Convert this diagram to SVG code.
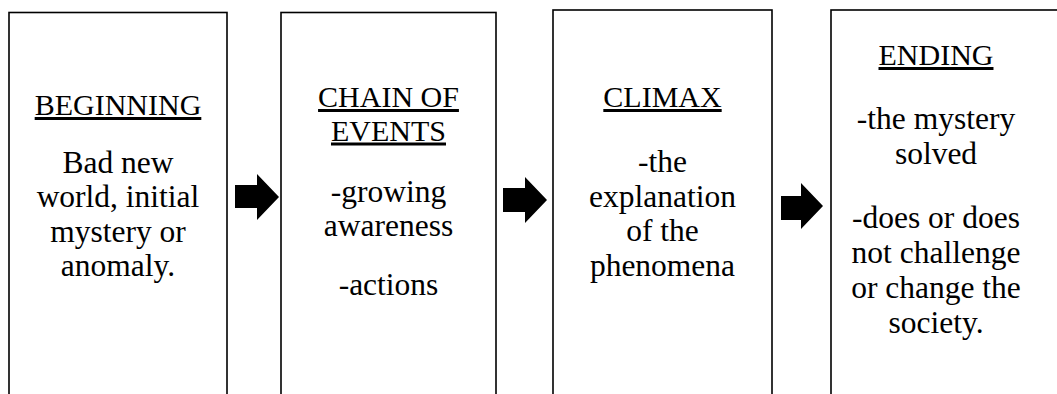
<svg xmlns="http://www.w3.org/2000/svg" width="1057" height="394" viewBox="0 0 1057 394">
<style>
.box{fill:#fff;stroke:#000;stroke-width:1.6}
text{font-family:"Liberation Serif","Times New Roman",serif;font-size:31.5px;fill:#000;text-anchor:middle}
.h{text-decoration:underline;font-size:30px}
.arrow{fill:#000}
</style>
<rect width="1057" height="394" fill="#fff"/>
<g id="node-beginning">
<rect class="box" x="9" y="12.5" width="218" height="400"/>
<text class="h" x="118" y="115">BEGINNING</text>
<text x="118" y="173">Bad new</text>
<text x="118" y="207">world, initial</text>
<text x="118" y="241.5">mystery or</text>
<text x="118" y="276">anomaly.</text>
</g>
<g id="node-chain">
<rect class="box" x="281" y="12.5" width="215" height="400"/>
<text class="h" x="388.5" y="107">CHAIN OF</text>
<text class="h" x="388.5" y="140.5">EVENTS</text>
<text x="388.5" y="201.5">-growing</text>
<text x="388.5" y="235.5">awareness</text>
<text x="388.5" y="294.5">-actions</text>
</g>
<g id="node-climax">
<rect class="box" x="553" y="10" width="219" height="400"/>
<text class="h" x="662.5" y="107">CLIMAX</text>
<text x="662.5" y="172">-the</text>
<text x="662.5" y="206.5">explanation</text>
<text x="662.5" y="241">of the</text>
<text x="662.5" y="275.5">phenomena</text>
</g>
<g id="node-ending">
<rect class="box" x="831" y="10" width="240" height="400"/>
<text class="h" x="936" y="65">ENDING</text>
<text x="936" y="129">-the mystery</text>
<text x="936" y="163.5">solved</text>
<text x="936" y="227.5">-does or does</text>
<text x="936" y="263">not challenge</text>
<text x="936" y="298">or change the</text>
<text x="936" y="333">society.</text>
</g>
<g id="connectors">
<polygon class="arrow" points="235,185 257,185 257,174 279,197 257,220 257,208 235,208"/>
<polygon class="arrow" points="503,188 525,188 525,177 547,200 525,223 525,212 503,212"/>
<polygon class="arrow" points="781,196 801,196 801,183 823,206 801,229 801,220 781,220"/>
</g>
</svg>
